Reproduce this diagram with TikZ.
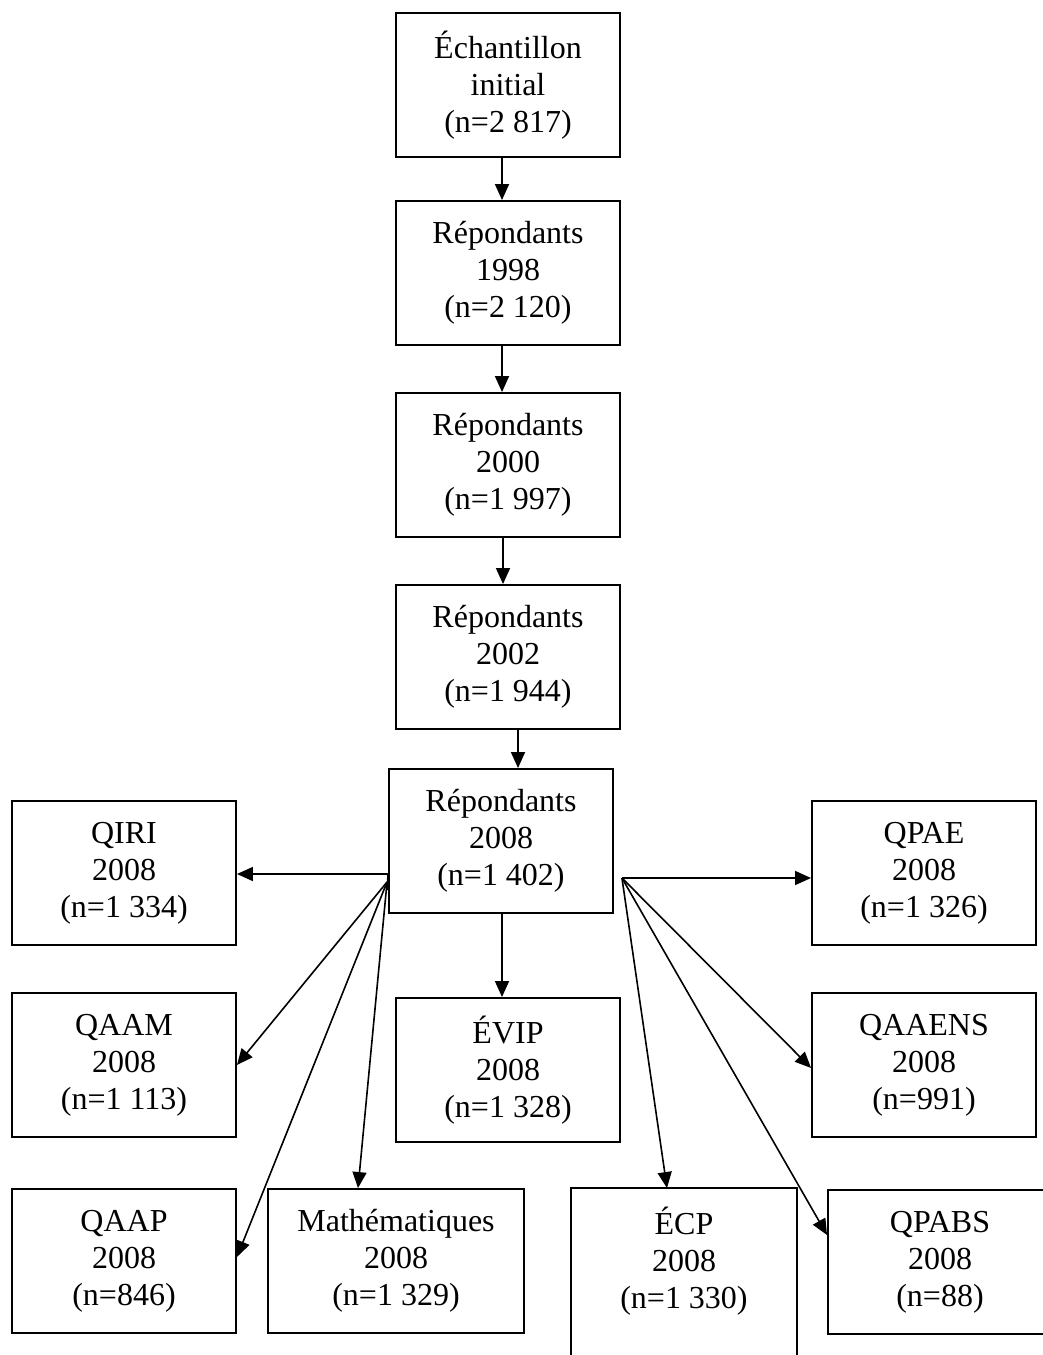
\documentclass[tikz,border=0pt]{standalone}
\usepackage{fontspec}
\setmainfont{Liberation Serif}
\usetikzlibrary{arrows.meta}
\begin{document}
\begin{tikzpicture}[x=1pt,y=-1pt,
  box/.style={draw, line width=1.9pt, inner sep=0pt, minimum width=224pt, minimum height=144pt,
    align=center, font=\fontsize{32}{37}\selectfont},
  notext/.style={box, draw=none},
  arr/.style={line width=1.6pt, -{Triangle[length=16pt,width=14pt]}},
  ln/.style={line width=1.6pt}]
\clip (0,0) rectangle (1043,1355);
\fill[white] (0,0) rectangle (1043,1355);
% main column
\node[box] (b1) at (508,85)  {Échantillon\\initial\\(n=2 817)};
\node[box] (b2) at (508,273) {Répondants\\1998\\(n=2 120)};
\node[box] (b3) at (508,465) {Répondants\\2000\\(n=1 997)};
\node[box] (b4) at (508,657) {Répondants\\2002\\(n=1 944)};
\node[box] (b5) at (501,841) {Répondants\\2008\\(n=1 402)};
% left column
\node[box] (qiri) at (124,873)  {QIRI\\2008\\(n=1 334)};
\node[box] (qaam) at (124,1065) {QAAM\\2008\\(n=1 113)};
\node[box] (qaap) at (124,1261) {QAAP\\2008\\(n=846)};
% middle
\node[box] (evip) at (508,1070) {ÉVIP\\2008\\(n=1 328)};
\node[box, minimum width=256pt] (math) at (396,1261) {Mathématiques\\2008\\(n=1 329)};
\node[notext] (ecp) at (684,1261) {ÉCP\\2008\\(n=1 330)};
\draw[line width=1.9pt] ([yshift=-60pt]ecp.south west) -- (ecp.north west) -- (ecp.north east) -- ([yshift=-60pt]ecp.south east);
% right column
\node[box] (qpae) at (924,873)  {QPAE\\2008\\(n=1 326)};
\node[box] (qaaens) at (924,1065) {QAAENS\\2008\\(n=991)};
\node[box] (qpabs) at (940,1262) {QPABS\\2008\\(n=88)};
% vertical chain
\draw[arr] ([xshift=-6pt]b1.south) -- ([xshift=-6pt]b2.north);
\draw[arr] ([xshift=-6pt]b2.south) -- ([xshift=-6pt]b3.north);
\draw[arr] ([xshift=-5pt]b3.south) -- ([xshift=-5pt]b4.north);
\draw[arr] ([xshift=10pt]b4.south) -- ([xshift=17pt]b5.north);
\draw[arr] ([xshift=1pt]b5.south) -- ([xshift=-6pt]evip.north);
% fan origins
\coordinate (L0) at ([yshift=-33pt]b5.west);
\coordinate (L) at ([xshift=-1pt,yshift=-41pt]b5.west);
\coordinate (R) at ([xshift=8pt,yshift=-37pt]b5.east);
\draw[ln] (L0) -- ([yshift=-8pt]L);
% left fan
\draw[arr] (L0) -- (L0 -| qiri.east);
\draw[arr] (L) -- (qaam.east);
\draw[arr] (L) -- ([yshift=4pt]qaap.east);
\draw[arr] (L) -- ([xshift=-38pt]math.north);
% right fan
\draw[arr] (R) -- (R -| qpae.west);
\draw[arr] (R) -- ([yshift=-3pt]qaaens.west);
\draw[arr] (R) -- ([xshift=-17pt]ecp.north);
\draw[arr] (R) -- ([yshift=27pt]qpabs.west);
\end{tikzpicture}
\end{document}
